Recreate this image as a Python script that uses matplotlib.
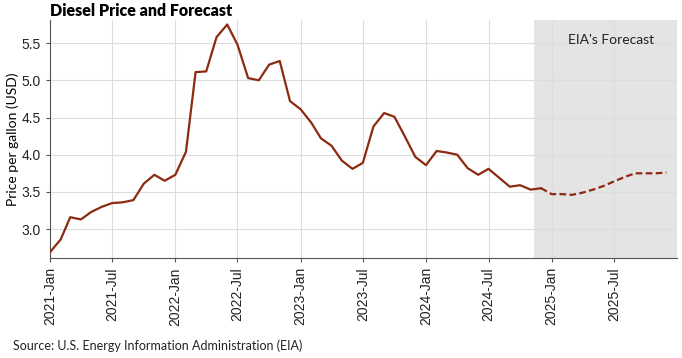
import numpy as np
import pandas as pd
import matplotlib
matplotlib.use("Agg")
import matplotlib.pyplot as plt

# monthly diesel price, USD per gallon
hist_months = pd.date_range("2021-01-01", "2024-12-01", freq="MS")
hist_price = [2.69, 2.86, 3.16, 3.13, 3.23, 3.30, 3.35, 3.36, 3.39, 3.61, 3.73, 3.65,
              3.73, 4.04, 5.11, 5.12, 5.58, 5.75, 5.48, 5.03, 5.00, 5.21, 5.26, 4.72,
              4.61, 4.43, 4.22, 4.12, 3.92, 3.81, 3.89, 4.38, 4.56, 4.51, 4.24, 3.97,
              3.86, 4.05, 4.03, 4.00, 3.82, 3.73, 3.81, 3.69, 3.57, 3.59, 3.53, 3.55]

fc_months = pd.date_range("2024-12-01", "2025-12-01", freq="MS")
fc_price = [3.55, 3.47, 3.47, 3.46, 3.49, 3.53, 3.58, 3.64, 3.70, 3.75, 3.75, 3.75, 3.76]

forecast_start = pd.Timestamp("2024-11-11")
x_end = pd.Timestamp("2026-01-01")

line_color = "#8c2a10"

fig = plt.figure(figsize=(6.82, 3.58), dpi=100)
ax = fig.add_axes([0.0733, 0.279, 0.9194, 0.665])

ax.axvspan(forecast_start, x_end, color="#e4e4e4", zorder=0, lw=0)
ax.plot(hist_months, hist_price, color=line_color, lw=1.6, zorder=3)
ax.plot(fc_months, fc_price, color=line_color, lw=1.6, ls=(0, (3, 1.5)), zorder=3)

ax.set_xlim(pd.Timestamp("2021-01-01"), x_end)
ax.set_ylim(2.61, 5.81)
ax.set_yticks(np.arange(3.0, 5.51, 0.5))
ax.yaxis.set_major_formatter(matplotlib.ticker.FormatStrFormatter("%.1f"))

ticks = pd.date_range("2021-01-01", "2025-07-01", freq="6MS")
ax.set_xticks(ticks)
ax.set_xticklabels([d.strftime("%Y-%b") for d in ticks], rotation=90,
                   family="Liberation Sans", fontsize=10)
for lab in ax.get_yticklabels():
    lab.set_family("Liberation Sans")
    lab.set_fontsize(10)

ax.grid(True, color="#dddddd", lw=0.8)
ax.set_axisbelow(True)
for s in ["top", "right"]:
    ax.spines[s].set_visible(False)
for s in ["left", "bottom"]:
    ax.spines[s].set_color("#555555")
ax.tick_params(colors="#222222", length=3, color="#555555")

ax.set_ylabel("Price per gallon (USD)", family="Lato", fontsize=10)
ax.yaxis.set_label_coords(-0.05, 0.5)

ax.text(0.895, 0.916, "EIA's Forecast", transform=ax.transAxes, ha="center",
        va="center", family="Lato", fontsize=10, color="#222222")

fig.text(0.0733, 0.97, "Diesel Price and Forecast", family="Lato",
         fontweight="heavy", fontsize=11.5, va="center", ha="left")
fig.text(0.019, 0.033, "Source: U.S. Energy Information Administration (EIA)",
         family="Lato", fontsize=9.0, va="center", ha="left", color="#222222")

fig.savefig("out.png", dpi=100)
